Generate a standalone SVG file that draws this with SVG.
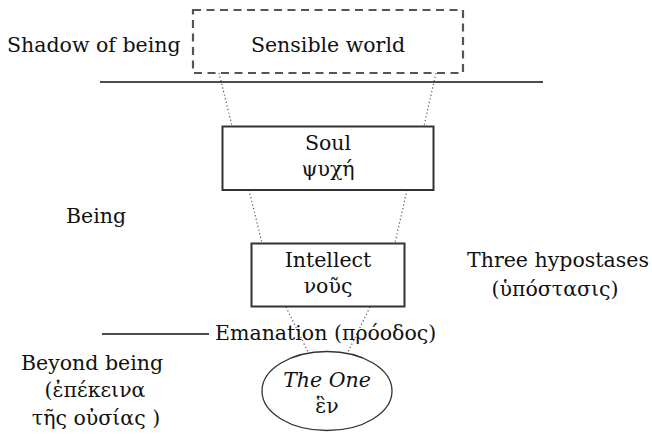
<svg xmlns="http://www.w3.org/2000/svg" width="652" height="435" viewBox="0 0 652 435">
<style>
text{font-family:"DejaVu Serif","Liberation Serif",serif;font-size:20.5px;fill:#111}
.c{text-anchor:middle}
.box{fill:#fff;stroke:#333;stroke-width:2}
.dot{stroke:#555;stroke-width:1.2;stroke-dasharray:1.2 2.5;fill:none}
.rule{stroke:#111;stroke-width:1.5}
</style>
<rect width="652" height="435" fill="#fff"/>
<g id="connectors">
<line class="dot" x1="219" y1="73" x2="232" y2="126"/>
<line class="dot" x1="436" y1="73" x2="424" y2="126"/>
<line class="dot" x1="249" y1="190" x2="262" y2="243"/>
<line class="dot" x1="407" y1="190" x2="395" y2="243"/>
<line class="dot" x1="286" y1="307" x2="308" y2="352"/>
<line class="dot" x1="370" y1="307" x2="348" y2="352"/>
</g>
<g id="dividers">
<line class="rule" x1="100" y1="82" x2="543" y2="82"/>
<line class="rule" x1="102" y1="334" x2="209" y2="334"/>
</g>
<g id="sensible">
<rect x="193" y="10" width="270" height="63" fill="#fff" stroke="#555" stroke-width="2.2" stroke-dasharray="8 5.5"/>
<text class="c" x="328" y="52">Sensible world</text>
</g>
<g id="soul">
<rect class="box" x="222.5" y="126.5" width="211" height="63.5"/>
<text class="c" x="328" y="150">Soul</text>
<text class="c" x="328" y="176">ψυχή</text>
</g>
<g id="intellect">
<rect class="box" x="251.5" y="243.5" width="153" height="63"/>
<text class="c" x="328" y="267">Intellect</text>
<text class="c" x="328" y="293">νοῦς</text>
</g>
<g id="one">
<ellipse cx="327" cy="391" rx="65" ry="39.5" fill="#fff" stroke="#333" stroke-width="1.3"/>
<text class="c" x="327" y="387" font-style="italic">The One</text>
<text class="c" x="327" y="413">ἓν</text>
</g>
<g id="labels">
<text x="7" y="52">Shadow of being</text>
<text x="66" y="223">Being</text>
<text x="215" y="340">Emanation (πρόοδος)</text>
<text class="c" x="558" y="267">Three hypostases</text>
<text class="c" x="555" y="296">(ὑπόστασις)</text>
<text class="c" x="92" y="370">Beyond being</text>
<text class="c" x="95" y="397">(ἐπέκεινα</text>
<text class="c" x="96" y="425">τῆς οὐσίας )</text>
</g>
</svg>
